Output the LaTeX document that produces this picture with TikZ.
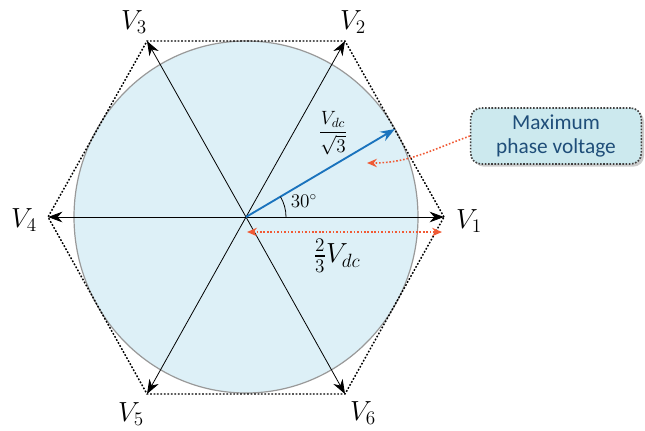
\documentclass[tikz,border=0pt]{standalone}
\usepackage{amsmath}
\usepackage{xcolor}
\usepackage{fontspec}
\usetikzlibrary{arrows.meta, angles, quotes, calc, shadows}
\newfontfamily\notefont{Carlito}
\definecolor{vecblue}{HTML}{1A73BD}
\definecolor{hintred}{HTML}{F05A35}
\definecolor{disc}{HTML}{DDF0F7}
\definecolor{notefill}{HTML}{CCE9EE}
\definecolor{notetext}{HTML}{1F4E79}
\tikzset{
  hinttip/.tip={Stealth[length=2.6mm, width=2.2mm]},
  phasor/.style={-{Stealth[length=3.8mm, width=2.8mm]}, line width=0.6pt, color=black},
  maxvec/.style={-{Stealth[length=3.8mm, width=2.8mm]}, line width=1.4pt, color=vecblue},
  hint/.style={line width=1.2pt, color=hintred, dash pattern=on 1.2pt off 1.4pt},
  vlabel/.style={font=\fontsize{21}{24}\selectfont},
  note/.style={draw=black!75, line width=1.2pt, dash pattern=on 1.2pt off 1.2pt, fill=notefill,
    rounded corners=8pt, minimum width=128pt, minimum height=42pt, align=center,
    text=notetext, font=\notefont\fontsize{16}{18.5}\selectfont,
    drop shadow={shadow xshift=2pt, shadow yshift=-2pt, fill=black!40}}
}

\begin{document}
\begin{tikzpicture}[x=0.75pt, y=-0.75pt]
\useasboundingbox (0,0) rectangle (645,430);
\coordinate (O) at (246,217);
\coordinate (P1) at (444,217);
\coordinate (P2) at (345,41);
\coordinate (P3) at (147,41);
\coordinate (P4) at (48,217);
\coordinate (P5) at (147,394);
\coordinate (P6) at (345,394);
\fill[disc] (O) ellipse [x radius=129pt, y radius=132pt];
\draw[black!40, line width=0.9pt] (O) ellipse [x radius=129pt, y radius=132pt];
\draw[line width=1.1pt, dash pattern=on 1.3pt off 1.3pt] (P1) -- (P2) -- (P3) -- (P4) -- (P5) -- (P6) -- cycle;
\foreach \k in {1,...,6} {\draw[phasor] (O) -- (P\k);}
\node[vlabel] (v1) at (469,221) {$V_1$};
\node[vlabel] (v2) at (353,22) {$V_2$};
\node[vlabel] (v3) at (134,22) {$V_3$};
\node[vlabel] (v4) at (24,220) {$V_4$};
\node[vlabel] (v5) at (131,414) {$V_5$};
\node[vlabel] (v6) at (363,413) {$V_6$};
\coordinate (M) at ($(O)+(-30:172 and 176)$);
\draw[maxvec] (O) -- (M);
\node[font=\fontsize{14}{16}\selectfont] (vmax) at (333,133) {$\dfrac{V_{dc}}{\sqrt{3}}$};
\pic[draw, line width=0.6pt, angle radius=30pt, "$30^\circ$", angle eccentricity=1.5,
  font=\fontsize{14}{16}\selectfont] {angle=P1--O--M};
\coordinate (D1) at (247,232);
\coordinate (D2) at (442,232);
\draw[hint, hinttip-hinttip] (D1) -- (D2);
\node[font=\fontsize{20}{22}\selectfont] (vhex) at (337,256) {$\tfrac{2}{3}V_{dc}$};
\node[note] (callout) at (556,136) {Maximum\\phase voltage};
\coordinate (T) at (367,163);
\draw[hint, -hinttip] (callout.west) to[out=200, in=0] (T);
\end{tikzpicture}
\end{document}
